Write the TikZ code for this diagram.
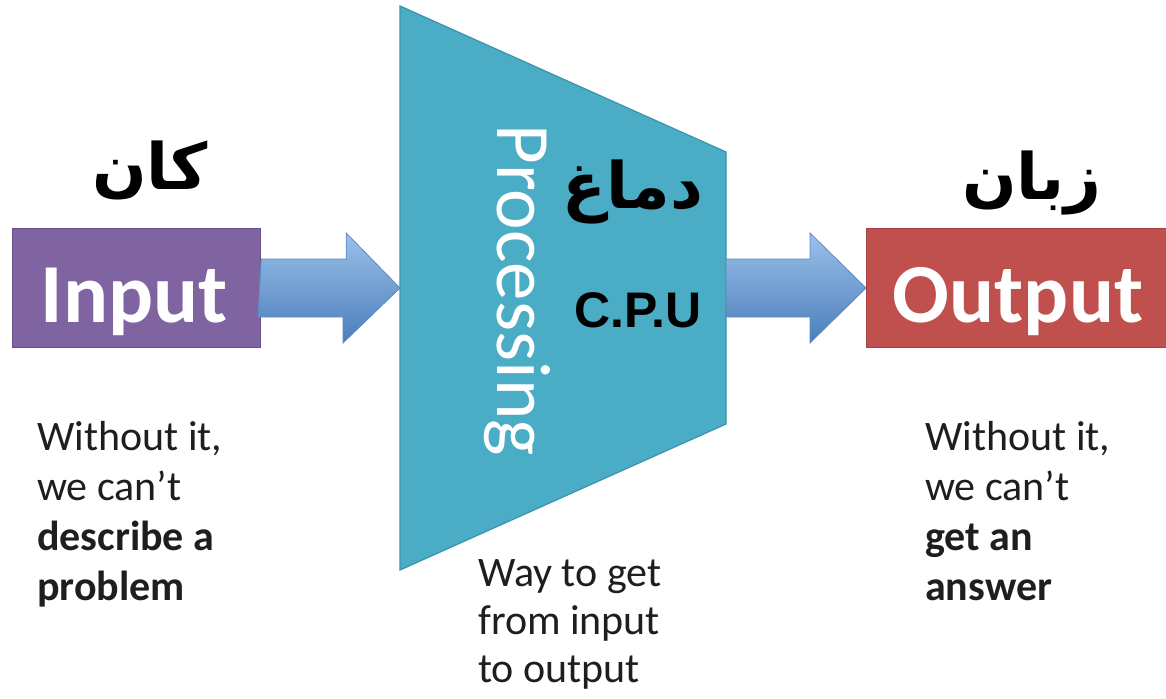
\documentclass[tikz,border=0pt]{standalone}
\usepackage{fontspec}
\setmainfont{Carlito}
\newfontfamily\cpufont{Liberation Sans}
\newfontfamily\arabicfont[Script=Arabic]{DejaVu Sans}
\TeXXeTstate=1
\definecolor{inpurple}{HTML}{8064A2}
\definecolor{inpurpleD}{HTML}{6A5088}
\definecolor{outred}{HTML}{C0504D}
\definecolor{outredD}{HTML}{A23E3B}
\definecolor{proc}{HTML}{4BACC6}
\definecolor{procD}{HTML}{3B93AC}
\definecolor{arrlight}{HTML}{9CC0EA}
\definecolor{arrdark}{HTML}{4A7EBB}
\definecolor{arrD}{HTML}{5A8BC6}
\definecolor{txt}{HTML}{1E1E1E}
\begin{document}
\begin{tikzpicture}[x=1pt,y=-1pt,
  blockbox/.style={draw, line width=1.2pt, minimum width=248pt, minimum height=119pt, inner sep=0pt},
  bigword/.style={text=white, font=\fontsize{84}{84}\selectfont\bfseries, anchor=base},
  urdu/.style={text=black, font=\arabicfont\bfseries\fontsize{64}{66}\selectfont, inner sep=0pt},
  body/.style={text=txt, font=\fontsize{42}{50}\selectfont, align=left, anchor=north west, inner sep=0pt},
  blockarrow/.style={top color=arrlight, bottom color=arrdark, draw=arrD, line width=0.8pt}
]
\useasboundingbox (0,0) rectangle (1166,698);

% Input box
\node[blockbox, fill=inpurple, draw=inpurpleD, anchor=north west] (in) at (12,228) {};
\node[bigword] (intext) at (134,322) {Input};

% Output box
\node[blockbox, fill=outred, draw=outredD, anchor=north west, minimum width=300pt] (out) at (866,228) {};
\node[bigword] (outtext) at (1018,322) {Output};

% Processing trapezoid
\coordinate (ptl) at (400,6);
\coordinate (pbl) at (400,570);
\coordinate (ptr) at (726,152);
\coordinate (pbr) at (726,424);
\draw[fill=proc, draw=procD, line width=1.2pt] (ptl) -- (ptr) -- (pbr) -- (pbl) -- cycle;
\node[text=white, font=\fontsize{77}{77}\selectfont, rotate=-90] (proctext) at (517,290) {Processing};
\node[urdu] (dimagh) at (633,192) {\beginR دماغ\endR};
\node[text=black, font=\cpufont\fontsize{50}{50}\selectfont\bfseries, inner sep=0pt] (cpu) at (638,310) {C.P.U};

% Block arrows
\coordinate (a1s) at (in.east |- 0,288);
\coordinate (a1t) at (ptl |- 0,288);
\draw[blockarrow] (a1s) ++(0,-29) -- ++(85,0) -- ++(0,-26) -- (a1t) -- ++(-57,55) -- ++(0,-26) -- ++(-85,0) -- cycle;
\coordinate (a2s) at (ptr |- 0,288);
\coordinate (a2t) at (out.west |- 0,288);
\draw[blockarrow] (a2s) ++(0,-29) -- ++(84,0) -- ++(0,-26) -- (a2t) -- ++(-56,55) -- ++(0,-26) -- ++(-84,0) -- cycle;

% Urdu labels
\node[urdu] (kaan) at (150,170) {\beginR کان\endR};
\node[urdu] (zaban) at (1032,183) {\beginR زبان\endR};

% Captions
\node[body] (lefttext) at (37,421) {Without it,\\we can’t\\\textbf{describe a}\\\textbf{problem}};
\node[body] (righttext) at (925,421) {Without it,\\we can’t\\\textbf{get an}\\\textbf{answer}};
\node[body, font=\fontsize{42}{48}\selectfont] (midtext) at (478,559) {Way to get\\from input\\to output};
\end{tikzpicture}
\end{document}
